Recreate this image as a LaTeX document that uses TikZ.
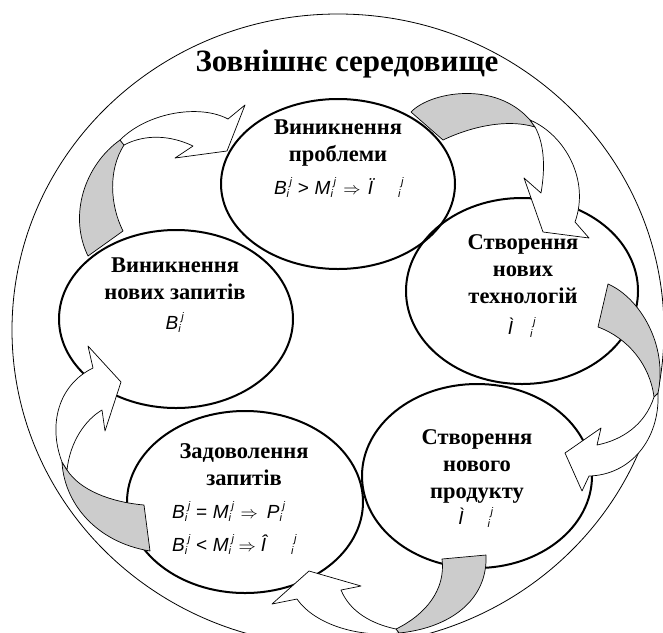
\documentclass[tikz,border=0pt]{standalone}
\usepackage{fontspec}
\setmainfont{Liberation Serif}
\newfontfamily\formfont{Liberation Sans}
\usetikzlibrary{shapes.geometric}
\newcommand{\idxsize}{\fontsize{11}{11}\selectfont}
\newcommand{\idx}[1]{#1$_{\mbox{\idxsize i}}^{\mbox{\kern3pt\idxsize j}}$}

\begin{document}
\begin{tikzpicture}[x = 1pt, y = -1pt,
		stage/.style = {ellipse, draw, line width = 2pt, inner sep = 0},
		caption/.style = {align = center, font = \fontsize{22.5}{27}\selectfont\bfseries, inner sep = 0, anchor = base},
		formula/.style = {font = \fontsize{19}{22}\selectfont\formfont\itshape, inner sep = 0, anchor = base},
		back/.style = {draw, line width = 0.7pt, fill = black!20, line join = round},
		front/.style = {draw, line width = 0.7pt, fill = white, line join = round}]
		\useasboundingbox (0, 0) rectangle (663, 632);

		\draw [line width = 0.8pt] (338, 330) ellipse [x radius = 326, y radius = 316];
		\node [font = \fontsize{31}{36}\selectfont\bfseries, inner sep = 0, anchor = base] (environment) at (347, 71) {Зовнішнє середовище};

		\node [stage, minimum width = 234pt, minimum height = 170pt] (problem) at (338, 184) {};
		\node [stage, minimum width = 232pt, minimum height = 186pt] (technology) at (522, 291) {};
		\node [stage, minimum width = 230pt, minimum height = 184pt] (product) at (477, 476) {};
		\node [stage, minimum width = 236pt, minimum height = 182pt] (satisfaction) at (245, 502) {};
		\node [stage, minimum width = 234pt, minimum height = 178pt] (request) at (176, 319) {};

		\draw [back] (411, 112) .. controls (430, 92) and (495, 80) .. (530, 120) -- (535, 127) .. controls (505, 118) and (468, 128) .. (443, 140) -- cycle;
		\draw [front] (530, 120) .. controls (565, 135) and (590, 180) .. (575, 222) -- (589, 238) -- (543, 232) -- (524, 178) -- (541, 193) .. controls (545, 170) and (545, 145) .. (535, 127) -- cycle;

		\draw [back] (608, 284) .. controls (640, 298) and (668, 345) .. (658, 393) -- (654, 397) .. controls (650, 365) and (628, 338) .. (598, 327) -- cycle;
		\draw [front] (658, 393) .. controls (660, 440) and (630, 475) .. (589, 476) -- (582, 491) -- (565, 453) -- (601, 428) -- (597, 445) .. controls (622, 440) and (645, 425) .. (654, 397) -- cycle;

		\draw [back] (442, 559) -- (486, 555) .. controls (488, 600) and (450, 628) .. (399, 633) -- (396, 629) .. controls (425, 615) and (446, 590) .. (442, 559) -- cycle;
		\draw [front] (399, 633) .. controls (360, 638) and (315, 625) .. (297, 599) -- (272, 604) -- (309, 571) -- (361, 586) -- (341, 590) .. controls (350, 612) and (372, 624) .. (396, 629) -- cycle;

		\draw [back] (62, 462) .. controls (64, 502) and (95, 542) .. (150, 551) -- (144, 505) .. controls (110, 502) and (80, 490) .. (67, 470) -- cycle;
		\draw [front] (62, 462) .. controls (48, 425) and (58, 385) .. (93, 368) -- (88, 346) -- (121, 382) -- (105, 431) -- (102, 410) .. controls (85, 420) and (70, 442) .. (67, 470) -- cycle;

		\draw [back] (88, 256) .. controls (68, 215) and (85, 165) .. (120, 140) -- (124, 145) .. controls (108, 170) and (110, 205) .. (123, 231) -- cycle;
		\draw [front] (120, 140) .. controls (148, 112) and (200, 104) .. (228, 119) -- (245, 105) -- (227, 151) -- (175, 158) -- (193, 146) .. controls (170, 135) and (145, 134) .. (124, 145) -- cycle;

		\node [caption] (problemText) at (338, 161) {Виникнення\\проблеми};
		\node [formula] (problemRule) at (339, 194) {\idx{B}\hspace{5pt}>\hspace{6pt}\idx{M}\hspace{7pt}$\Rightarrow$\hspace{7pt}Ï\hspace{25pt}\idx{}};

		\node [caption] (technologyText) at (523, 303) {Створення\\нових\\технологій};
		\node [formula] (technologyRule) at (522, 334) {Ì\hspace{17pt}\idx{}};

		\node [caption] (productText) at (477, 498) {Створення\\нового\\продукту};
		\node [formula] (productRule) at (476, 524) {Ì\hspace{24pt}\idx{}};

		\node [caption] (satisfactionText) at (244, 485) {Задоволення\\запитів};
		\node [formula, anchor = base west] (satisfactionRuleA) at (172, 518) {\idx{B}\hspace{5pt}=\hspace{6pt}\idx{M}\hspace{6pt}$\Rightarrow$\hspace{9pt}\idx{P}};
		\node [formula, anchor = base west] (satisfactionRuleB) at (172, 551) {\idx{B}\hspace{5pt}<\hspace{6pt}\idx{M}\hspace{4pt}$\Rightarrow$\hspace{5pt}Î\hspace{25pt}\idx{}};

		\node [caption] (requestText) at (175, 299) {Виникнення\\нових запитів};
		\node [formula] (requestRule) at (175, 329) {\idx{B}};
	\end{tikzpicture}
\end{document}
